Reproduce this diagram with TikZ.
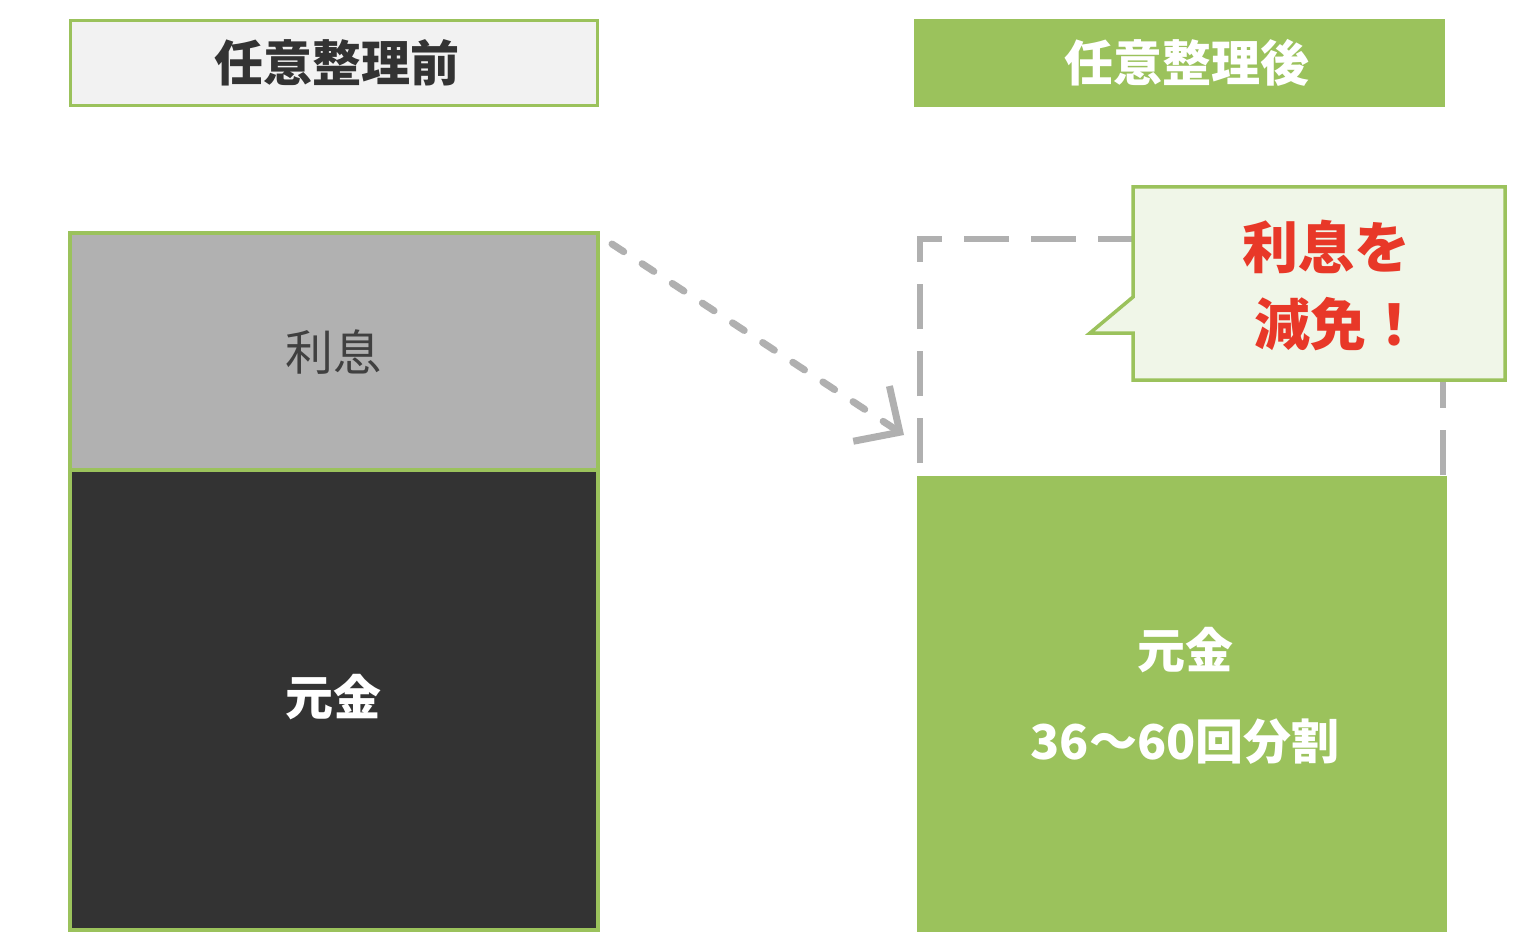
\documentclass[tikz,border=0pt]{standalone}
\usepackage{fontspec}
\setmainfont{Noto Sans CJK JP}
\usetikzlibrary{arrows.meta}
\definecolor{grn}{HTML}{9BC25C}
\definecolor{dark}{HTML}{333333}
\definecolor{midgray}{HTML}{B1B1B1}
\definecolor{hdrgray}{HTML}{F2F2F2}
\definecolor{calloutfill}{HTML}{F0F6E8}
\definecolor{redtxt}{HTML}{E83828}
\definecolor{dashgray}{HTML}{B0B0B0}
\definecolor{txtgray}{HTML}{404040}
\tikzset{
  big/.style={font=\fontsize{48}{58}\selectfont},
  bigb/.style={font=\fontsize{48}{58}\selectfont\bfseries},
  hdr/.style={font=\fontsize{49}{58}\selectfont\bfseries},
  calltxt/.style={font=\fontsize{56}{66}\selectfont\bfseries, text=redtxt},
  block/.style={inner sep=0pt, outer sep=0pt},
  framed/.style={block, draw=grn, line width=3.5pt},
  dashbox/.style={draw=dashgray, line width=6pt, dash pattern=on 45pt off 22pt},
  dasharrow/.style={draw=dashgray, line width=7pt, line cap=round, dash pattern=on 14pt off 22pt,
    -{Straight Barb[length=34pt,width=66pt,line cap=butt]}},
}
\begin{document}
\begin{tikzpicture}[x=1pt,y=-1pt]
\fill[white] (0,0) rectangle (1516,952);
\useasboundingbox (0,0) rectangle (1516,952);

% headers
\node[framed, fill=hdrgray, minimum width=527pt, minimum height=85pt] (hl) at (334,63) {};
\node[hdr, text=dark] (hlt) at (337,63) {任意整理前};
\node[block, fill=grn, minimum width=531pt, minimum height=88pt] (hr) at (1179.5,63) {};
\node[hdr, text=white] (hrt) at (1187,63) {任意整理後};

% left stack
\node[framed, fill=midgray, minimum width=528pt, minimum height=237pt] (interest) at (334,351.5) {};
\node[framed, fill=dark, minimum width=528pt, minimum height=460pt] (principal) at (334,700) {};
\node[big, text=txtgray] (tint) at (333,352) {利息};
\node[bigb, text=white] (tprin) at (333,697) {元金};

% dashed outline of removed interest
\coordinate (db1) at (920,463);
\coordinate (db2) at (920,239);
\coordinate (db3) at (1443,239);
\coordinate (db4) at (1443,476);
\draw[dashbox] (db1) -- (db2) -- (db3) -- (db4);

% right green block
\node[block, fill=grn, minimum width=530pt, minimum height=456pt] (newprin) at (1182,704) {};
\node[bigb, text=white] (tnew1) at (1185,650) {元金};
\node[bigb, text=white] (tnew2) at (1185,742) {36〜60回分割};

% dashed arrow
\coordinate (as) at (612,244);
\coordinate (ae) at (904,435);
\draw[dasharrow] (as) -- (ae);

% callout
\coordinate (c1) at (1133,187);
\coordinate (c2) at (1505,187);
\coordinate (c3) at (1505,380);
\coordinate (c4) at (1133,380);
\coordinate (c5) at (1133,333);
\coordinate (c6) at (1090,333);
\coordinate (c7) at (1133,297);
\draw[draw=grn, line width=3.5pt, fill=calloutfill, line join=miter] (c1) -- (c2) -- (c3) -- (c4) -- (c5) -- (c6) -- (c7) -- cycle;
\node[calltxt] (ct1) at (1326,247) {利息を};
\node[calltxt] (ct2) at (1338,324) {減免！};
\end{tikzpicture}
\end{document}
